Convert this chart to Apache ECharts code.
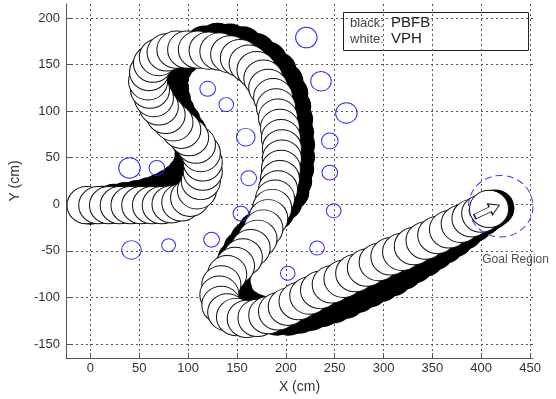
<!DOCTYPE html>
<html>
<head>
<meta charset="utf-8">
<script src="https://cdn.jsdelivr.net/npm/echarts@6/dist/echarts.min.js"></script>
<style>
  html, body { margin: 0; padding: 0; background: #fff; }
  #chart { width: 556px; height: 399px; }
</style>
</head>
<body>
<div id="chart"></div>
<script>
// Axis tick values (cm)
const xTicks = [0, 50, 100, 150, 200, 250, 300, 350, 400, 450];
const yTicks = [-150, -100, -50, 0, 50, 100, 150, 200];

// Robot footprint radius (cm)
const robotRadius = 20;

// VPH trajectory: robot centre at each step (x, y in cm)
const vphPath = [
  [-4, -1], [8, -1], [19, -1], [30, -1], [41, -1], [52, -1], [63, -1], [73, -1],
  [83, 0], [93, 2], [102, 7], [109, 15], [113, 25], [115, 35], [115, 45], [113, 55],
  [108, 64], [101, 72], [93, 80], [85, 88], [77, 96], [70, 105], [65, 114], [61, 123],
  [59, 132], [60, 142], [64, 151], [70, 158], [78, 163], [88, 166], [99, 166], [110, 166],
  [121, 165], [132, 164], [143, 161], [153, 157], [162, 151], [170, 144], [177, 135], [182, 125],
  [187, 115], [190, 104], [192, 93], [194, 82], [195, 71], [196, 60], [196, 49], [195, 38],
  [194, 27], [192, 16], [189, 6], [186, -4], [182, -15], [177, -26], [171, -37], [164, -47],
  [156, -57], [148, -66], [140, -75], [134, -86], [132, -97], [134, -108], [140, -116], [149, -121],
  [160, -123], [171, -122], [182, -119], [192, -115], [202, -110], [213, -104], [224, -98], [235, -92],
  [247, -86], [259, -80], [271, -74], [283, -68], [295, -62], [307, -56], [319, -51], [331, -45],
  [343, -39], [355, -33], [367, -27], [379, -21], [390, -15], [400, -10], [408, -5]
];

// PBFB trajectory: robot centre at each step (x, y in cm)
const pbfbPath = [
  [0, -2], [12, 0], [24, 2], [36, 4], [48, 6], [60, 9], [71, 13], [81, 18],
  [90, 24], [98, 32], [104, 42], [106, 54], [104, 66], [99, 78], [93, 89], [87, 100],
  [83, 112], [81, 124], [81, 136], [85, 148], [93, 158], [104, 166], [117, 172], [130, 175],
  [143, 174], [156, 171], [169, 164], [181, 155], [191, 144], [198, 132], [203, 119], [206, 105],
  [208, 91], [209, 77], [210, 64], [210, 51], [209, 38], [207, 25], [204, 13], [197, 2],
  [189, -8], [180, -18], [171, -28], [163, -38], [156, -48], [150, -59], [146, -71], [144, -82],
  [146, -93], [151, -104], [159, -111], [169, -116], [180, -119], [191, -121], [203, -121], [214, -119],
  [225, -116], [237, -112], [249, -108], [261, -103], [273, -97], [285, -91], [297, -85], [309, -79],
  [320, -72], [331, -65], [342, -58], [352, -51], [362, -44], [372, -37], [382, -29], [392, -21],
  [401, -14], [409, -8], [414, -4]
];

// Obstacles: centre x, centre y, radius (cm)
const obstacles = [
  [40, 39, 11], [68, 39, 8], [42, -49, 10], [80, -44, 7], [124, -38, 8],
  [120, 124, 8], [139, 107, 7.5], [159, 72, 9.5], [162, 28, 8], [154, -10, 8],
  [221, 179, 11], [236, 132, 10.5], [262, 98, 11], [245, 68, 8.5], [245, 34, 8],
  [249, -7, 7.5], [232, -47, 7.5], [202, -74, 7.5]
];

// Goal region: centre x, centre y, radius (cm)
const goalRegion = [[420, -2, 33]];
const goalLabel = [[401, -60]];
const goalText = 'Goal Region';

// Final heading marker: x, y (cm), on-screen angle (deg)
const finalHeading = [[406, -7, 25]];

// Legend text
const legendKeys = ['black:', 'white:'];
const legendNames = ['PBFB', 'VPH'];

const font = "'Liberation Sans', Arial, Helvetica, sans-serif";
const axisGrey = '#555';
const obstacleBlue = '#2c2cff';

const chart = echarts.init(document.getElementById('chart'), null, { renderer: 'canvas' });

// pixels per cm along x and y, taken from the axes once they exist
let kx = 1, ky = 1;
const ellipse = r => [2 * r * kx, 2 * r * ky];

function axisCommon(ticks) {
  return {
    type: 'value',
    nameLocation: 'middle',
    nameTextStyle: { fontFamily: font, fontSize: 14, color: '#333' },
    axisLine: { show: true, onZero: false, lineStyle: { color: axisGrey, width: 1 } },
    axisTick: { show: true, inside: true, length: 5, customValues: ticks, lineStyle: { color: axisGrey } },
    axisLabel: { customValues: ticks, fontFamily: font, fontSize: 13, color: '#333' },
    splitLine: { show: true, lineStyle: { type: [2, 3], color: '#555', width: 1 } }
  };
}

function buildOption() {
  const xAxis = axisCommon(xTicks);
  Object.assign(xAxis, { min: -25, max: 453, name: 'X (cm)', nameGap: 22 });
  xAxis.axisLabel.margin = 4;
  const yAxis = axisCommon(yTicks);
  Object.assign(yAxis, { min: -165, max: 215, name: 'Y (cm)', nameGap: 44 });
  yAxis.axisLabel.margin = 6;

  return {
    animation: false,
    backgroundColor: '#fff',
    grid: { left: 62, right: 23, top: 4, bottom: 39 },
    xAxis: xAxis,
    yAxis: yAxis,
    series: [
      {
        name: 'PBFB', type: 'scatter', data: pbfbPath, silent: true, z: 2,
        symbol: 'circle', symbolSize: ellipse(robotRadius),
        itemStyle: { color: '#000', opacity: 1 }
      },
      {
        name: 'VPH', type: 'scatter', data: vphPath, silent: true, z: 3,
        symbol: 'circle', symbolSize: ellipse(robotRadius),
        itemStyle: { color: '#fff', borderColor: '#111', borderWidth: 1, opacity: 1 }
      },
      {
        name: 'heading', type: 'scatter', silent: true, z: 4,
        data: finalHeading.map(h => [h[0], h[1]]),
        symbol: 'path://M0,4 L15,4 L15,0 L24,7 L15,14 L15,10 L0,10 Z',
        symbolSize: [27, 12], symbolRotate: finalHeading[0][2],
        itemStyle: { color: '#fff', borderColor: '#111', borderWidth: 1, opacity: 1 }
      },
      {
        name: 'obstacles', type: 'scatter', data: obstacles, silent: true, z: 5,
        symbol: 'circle', symbolSize: v => ellipse(v[2]),
        itemStyle: { color: 'rgba(0,0,0,0)', borderColor: obstacleBlue, borderWidth: 1, opacity: 1 }
      },
      {
        name: 'goal', type: 'scatter', data: goalRegion, silent: true, z: 5,
        symbol: 'circle', symbolSize: v => ellipse(v[2]),
        itemStyle: { color: 'rgba(0,0,0,0)', borderColor: '#3a3aff', borderWidth: 1, borderType: [7, 4], opacity: 1 }
      },
      {
        name: 'goalLabel', type: 'scatter', data: goalLabel, silent: true, z: 6,
        symbolSize: 0,
        label: {
          show: true, position: [0, 0], align: 'left', verticalAlign: 'middle',
          formatter: goalText, fontFamily: font, fontSize: 12, color: '#222'
        }
      }
    ],
    graphic: [{
      type: 'group', left: 343, top: 12, z: 100,
      children: [
        { type: 'rect', shape: { x: 0.5, y: 0.5, width: 185, height: 38 },
          style: { fill: '#fff', stroke: '#222', lineWidth: 1 } },
        { type: 'text', x: 7, y: 11, style: { text: legendKeys[0], fill: '#444', fontFamily: font, fontSize: 13, verticalAlign: 'middle' } },
        { type: 'text', x: 48, y: 11, style: { text: legendNames[0], fill: '#222', fontFamily: font, fontSize: 15, verticalAlign: 'middle' } },
        { type: 'text', x: 7, y: 27, style: { text: legendKeys[1], fill: '#444', fontFamily: font, fontSize: 13, verticalAlign: 'middle' } },
        { type: 'text', x: 48, y: 27, style: { text: legendNames[1], fill: '#222', fontFamily: font, fontSize: 15, verticalAlign: 'middle' } }
      ]
    }]
  };
}

chart.setOption(buildOption());
const p0 = chart.convertToPixel({ gridIndex: 0 }, [0, 0]);
const p1 = chart.convertToPixel({ gridIndex: 0 }, [100, 100]);
kx = Math.abs(p1[0] - p0[0]) / 100;
ky = Math.abs(p1[1] - p0[1]) / 100;
chart.setOption(buildOption());
</script>
</body>
</html>
